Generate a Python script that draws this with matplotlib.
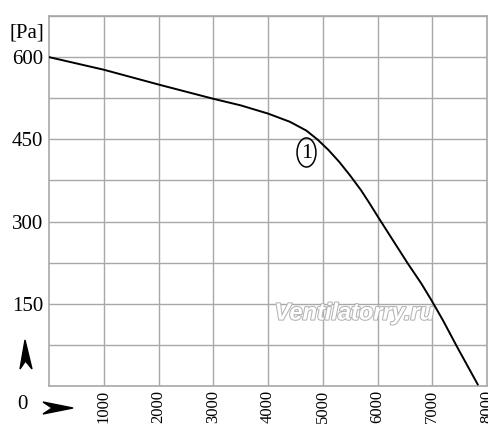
import matplotlib
matplotlib.use("Agg")
import matplotlib.pyplot as plt
import matplotlib.patheffects as pe
from matplotlib.patches import Ellipse, Polygon
from matplotlib.transforms import Bbox

# fan curve: air flow vs static pressure
flow = [0, 1000, 2000, 3000, 3500, 4000, 4400, 4700, 4900, 5100, 5300, 5500,
        5700, 5850, 6000, 6300, 6550, 6800, 7000, 7200, 7450, 7830]
pressure = [600, 577, 550, 524, 512, 497, 482, 466, 450, 431, 409, 384,
            357, 334, 310, 263, 224, 187, 154, 119, 72, 3]

x_ticks = [1000, 2000, 3000, 4000, 5000, 6000, 7000, 8000]
y_grid = [0, 75, 150, 225, 300, 375, 450, 525, 600, 675]
y_labels = {150: "150", 300: "300", 450: "450", 600: "600"}

serif = "Liberation Serif"
grid_col = "#a8a8a8"

fig = plt.figure(figsize=(5, 4.4), dpi=100)
ax = fig.add_axes([49 / 500, 1 - 386 / 440, 438 / 500, 370 / 440])

ax.plot(flow, pressure, color="black", lw=1.4, zorder=3,
        solid_joinstyle="round")

ax.set_xlim(0, 8000)
ax.set_ylim(0, 675)
ax.set_xticks(x_ticks)
ax.set_yticks(y_grid)
ax.set_xticklabels([str(v) for v in x_ticks], rotation=90, fontfamily=serif,
                   fontsize=12)
ax.set_yticklabels([y_labels.get(v, "") for v in y_grid], fontfamily=serif,
                   fontsize=15)
ax.tick_params(length=0, pad=4)
ax.tick_params(axis="x", pad=3)
ax.grid(True, color=grid_col, lw=1)
for s in ax.spines.values():
    s.set_color(grid_col)
    s.set_linewidth(1.2)

# cut the last x label like in the scan
fig.canvas.draw()
lbl = ax.get_xticklabels()[-1]
lbl.set_clip_box(Bbox([[0, 0], [488, 440]]))
lbl.set_clip_on(True)

# unit and zero labels
fig.text(27 / 500, 1 - 33 / 440, "[Pa]", fontfamily=serif, fontsize=15,
         ha="center", va="center")
fig.text(22 / 500, 1 - 404 / 440, "0", fontfamily=serif, fontsize=15,
         ha="center", va="center")

# axis arrows
up = Polygon([(25 / 500, 1 - 340 / 440), (32 / 500, 1 - 369 / 440),
              (25.5 / 500, 1 - 361 / 440), (20 / 500, 1 - 369 / 440)],
             closed=True, transform=fig.transFigure, color="black")
right = Polygon([(73 / 500, 1 - 408 / 440), (43 / 500, 1 - 414 / 440),
                 (52 / 500, 1 - 408 / 440), (43 / 500, 1 - 402 / 440)],
                closed=True, transform=fig.transFigure, color="black")
fig.patches.extend([up, right])

# curve number
ax.add_patch(Ellipse((4703, 426), 345, 53, fill=False, ec="black", lw=1.1,
                     zorder=4))
ax.text(4703, 425, "1", fontfamily=serif, fontsize=16, ha="center",
        va="center", zorder=4)

# watermark
wm = ax.text(5580, 133, "Ventilatorry.ru", fontfamily="Liberation Sans",
             fontsize=17, fontweight="bold", fontstyle="italic",
             color="white", ha="center", va="center", zorder=2)
wm.set_path_effects([pe.Stroke(linewidth=1.5, foreground="#b4b4b4"),
                     pe.Normal()])

fig.savefig("out.png", dpi=100)
